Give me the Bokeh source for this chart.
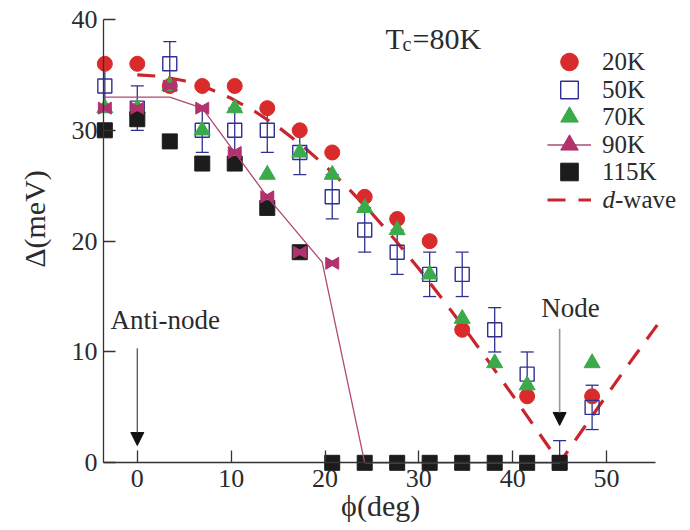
import math
from bokeh.plotting import figure
from bokeh.models import (ColumnDataSource, Range1d, FixedTicker, Whisker, TeeHead,
                          Legend, LegendItem, Label, Arrow, NormalHead)
from bokeh.transform import dodge
from bokeh.embed import file_html
from bokeh.resources import INLINE

# ---------------- data ----------------
phi_20K = [-3.46, 0.0, 3.46, 6.92, 10.38, 13.85, 17.31, 20.77, 24.23, 27.69, 31.15, 34.62, 41.54, 48.46]
gap_20K = [36, 36, 34, 34, 34, 32, 30, 28, 24, 22, 20, 12, 6, 6]

phi_50K = [-3.46, 0.0, 3.46, 6.92, 10.38, 13.85, 17.31, 20.77, 24.23, 27.69, 31.15, 34.62, 38.08, 41.54, 45.0, 48.46]
gap_50K = [34, 32, 36, 30, 30, 30, 28, 24, 21, 19, 17, 17, 12, 8, 0, 5]
gap_50K_upper = [36, 34, 38, 32, 32, 32, 30, 26, 23, 21, 19, 19, 14, 10, 2, 7]
gap_50K_lower = [32, 30, 34, 28, 28, 28, 26, 22, 19, 17, 15, 15, 10, 6, 0, 3]

phi_70K = [-3.46, 0.0, 3.46, 6.92, 10.38, 13.85, 17.31, 20.77, 24.23, 27.69, 31.15, 34.62, 38.08, 41.54, 48.46]
gap_70K = [32, 32, 34, 30, 32, 26, 28, 26, 23, 21, 17, 13, 9, 7, 9]

phi_90K = [-3.46, 0.0, 3.46, 6.92, 10.38, 13.85, 17.31, 20.77]
gap_90K = [32, 32, 34, 32, 28, 24, 19, 18]
phi_90K_line = [-3.46, 3.46, 6.92, 13.85, 19.7, 24.23, 45.0]
gap_90K_line = [33, 33, 32, 24, 18.1, 0, 0]

phi_115K = [-3.46, 0.0, 3.46, 6.92, 10.38, 13.85, 17.31, 20.77, 24.23, 27.69, 31.15, 34.62, 38.08, 41.54, 45.0]
gap_115K = [30, 31, 29, 27, 27, 23, 19, 0, 0, 0, 0, 0, 0, 0, 0]

phi_dwave = [0, 2.5, 5, 7.5, 10, 12.5, 15, 17.5, 20, 22.5, 25, 27.5, 30, 32.5, 35, 37.5,
             40, 42.5, 45, 47.5, 50, 52.5, 55, 55.4]
gap_dwave = [35.0, 34.87, 34.47, 33.81, 32.89, 31.72, 30.31, 28.67, 26.81, 24.75, 22.5, 20.08,
             17.5, 14.79, 11.97, 9.06, 6.08, 3.05, 0.0, 3.05, 6.08, 9.06, 11.97, 12.43]

x_ticks = [0, 10, 20, 30, 40, 50]
y_ticks = [0, 10, 20, 30, 40]
series_labels = ["20K", "50K", "70K", "90K", "115K", "-wave"]

# ---------------- styling / layout ----------------
W, H = 690, 530
# the frame fills the whole page; axes are drawn at fixed data locations
X0, X1 = -14.577, 58.944
Y0, Y1 = -6.108, 41.712
AXIS_X = -3.6
X_AXIS_END = 55.22
FONT = "Liberation Serif"
TXT = "#2b2b2b"
LEG_FS = "25px"

c20, c50, c70, c90, c90line, c115, cdw = ("#d92b2b", "#2e3192", "#3aaa4a", "#b2326e",
                                           "#b04878", "#1c1c1c", "#c9252c")

p = figure(width=W, height=H, x_range=Range1d(X0, X1), y_range=Range1d(Y0, Y1),
           output_backend="svg", toolbar_location=None,
           min_border_left=0, min_border_right=0, min_border_top=0, min_border_bottom=0)
p.outline_line_color = None
p.grid.visible = False
p.background_fill_color = "white"
p.border_fill_color = "white"

for ax in (p.xaxis[0], p.yaxis[0]):
    ax.axis_line_color = "#333333"
    ax.axis_line_width = 1.3
    ax.major_tick_line_color = "#333333"
    ax.major_tick_line_width = 1.3
    ax.major_tick_out = 0
    ax.major_tick_in = 12
    ax.minor_tick_line_color = None
    ax.major_label_text_font = FONT
    ax.major_label_text_font_size = "26px"
    ax.major_label_text_color = TXT

p.xaxis.ticker = FixedTicker(ticks=x_ticks)
p.xaxis.fixed_location = 0
p.xaxis.bounds = (AXIS_X, X_AXIS_END)
p.xaxis.major_label_standoff = 7
p.yaxis.ticker = FixedTicker(ticks=y_ticks)
p.yaxis.fixed_location = AXIS_X
p.yaxis.bounds = (0, 40)
p.yaxis.major_label_standoff = 6

# ---------------- glyphs ----------------
r_dw = p.line(phi_dwave, gap_dwave, line_color=cdw, line_width=3.2, line_dash="18 13")

r20 = p.scatter(phi_20K, gap_20K, marker="circle", size=15, fill_color=c20, line_color=c20)

src50 = ColumnDataSource(dict(x=phi_50K, y=gap_50K, upper=gap_50K_upper, lower=gap_50K_lower))
r50 = p.scatter("x", "y", source=src50, marker="square", size=14, fill_alpha=0,
                line_color=c50, line_width=1.4)
p.add_layout(Whisker(source=src50, base="x", upper="upper", lower="lower",
                     line_color=c50, line_width=1.3,
                     upper_head=TeeHead(size=13, line_color=c50, line_width=1.3),
                     lower_head=TeeHead(size=13, line_color=c50, line_width=1.3)))

r70 = p.scatter(phi_70K, gap_70K, marker="triangle", size=16, fill_color=c70, line_color=c70)

r115 = p.scatter(phi_115K, gap_115K, marker="square", size=15, fill_color=c115, line_color=c115)

r90l = p.line(phi_90K_line, gap_90K_line, line_color=c90line, line_width=1.3)

px_per_x = W / (X1 - X0)
d = 3.0 / px_per_x
src90 = ColumnDataSource(dict(x=phi_90K, y=gap_90K))
b1 = p.scatter(x=dodge("x", -d, range=p.x_range), y="y", source=src90, marker="triangle",
               size=12, angle=-math.pi / 2, fill_color=c90, line_color=c90)
b2 = p.scatter(x=dodge("x", d, range=p.x_range), y="y", source=src90, marker="triangle",
               size=12, angle=math.pi / 2, fill_color=c90, line_color=c90)

# ---------------- legend (three interleaved columns of rows) ----------------
def make_legend(items, vx, vy, standoff):
    lg = Legend(items=items, location=(vx, vy), orientation="vertical",
                glyph_width=44, glyph_height=55, spacing=0, padding=0, margin=0,
                label_standoff=standoff, label_text_font=FONT, label_text_font_size=LEG_FS,
                label_text_color=TXT, border_line_color=None, background_fill_alpha=0)
    p.add_layout(lg)

make_legend([LegendItem(label=series_labels[0], renderers=[r20]),
             LegendItem(label=series_labels[2], renderers=[r70]),
             LegendItem(label=series_labels[4], renderers=[r115])], 547, 331, 11)
make_legend([LegendItem(label=series_labels[1], renderers=[r50]),
             LegendItem(label=series_labels[3], renderers=[r90l, b1])], 547, 358, 11)
make_legend([LegendItem(label=series_labels[5], renderers=[r_dw])], 547, 303, 24)

# ---------------- annotations ----------------
def lab(x, y, text, size, **kw):
    p.add_layout(Label(x=x, y=y, text=text, text_font=FONT, text_font_size=size,
                       text_color=TXT, **kw))

lab(49.57, 23.73, "d", LEG_FS, text_font_style="italic", text_baseline="middle")

tc_x, tc_y = 26.45, 36.75
lab(tc_x, tc_y, "T", "30px")
lab(tc_x, tc_y, "c", "20px", x_offset=17)
lab(tc_x, tc_y, "=80K", "30px", x_offset=27)

lab(-2.86, 11.49, "Anti-node", "27px")
lab(43.03, 12.6, "Node", "27px")

lab(25.93, -5.3, "\u03d5(deg)", "30px", text_align="center")
lab(-11.0, 22.0, "\u0394(meV)", "30px", text_align="center", text_baseline="middle",
    angle=math.pi / 2)

p.add_layout(Arrow(x_start=0, y_start=10.33, x_end=0, y_end=1.56, line_color="#555555",
                   line_width=1.3, end=NormalHead(size=13, fill_color="#111111",
                                                  line_color="#111111")))
p.add_layout(Arrow(x_start=45, y_start=12.1, x_end=45, y_end=3.37, line_color="#999999",
                   line_width=1.6, end=NormalHead(size=13, fill_color="#111111",
                                                  line_color="#111111")))

open("out.html", "w").write(file_html(p, INLINE))
